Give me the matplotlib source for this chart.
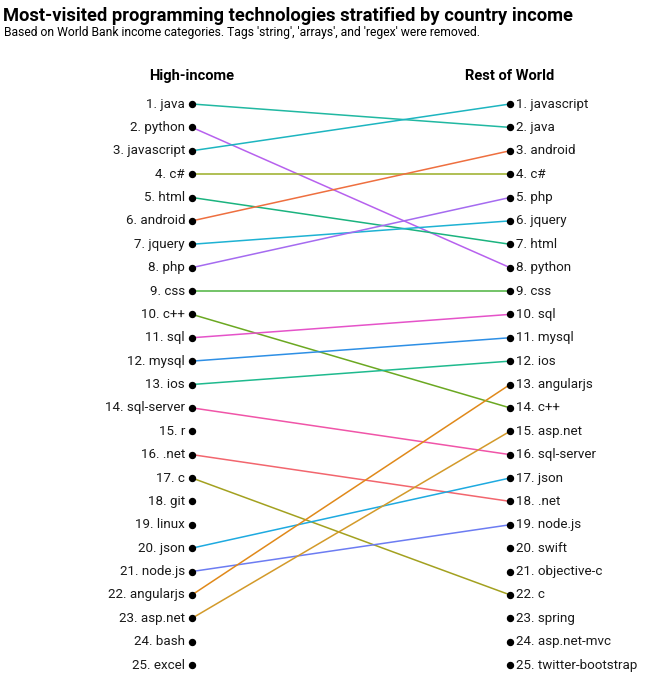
import matplotlib
matplotlib.use("Agg")
import matplotlib.pyplot as plt

plt.rcParams['font.family'] = ['Roboto', 'DejaVu Sans']

# Rankings (1 = most visited)
high_income = ['java', 'python', 'javascript', 'c#', 'html', 'android', 'jquery', 'php',
               'css', 'c++', 'sql', 'mysql', 'ios', 'sql-server', 'r', '.net', 'c', 'git',
               'linux', 'json', 'node.js', 'angularjs', 'asp.net', 'bash', 'excel']
rest_world = ['javascript', 'java', 'android', 'c#', 'php', 'jquery', 'html', 'python',
              'css', 'sql', 'mysql', 'ios', 'angularjs', 'c++', 'asp.net', 'sql-server',
              'json', '.net', 'node.js', 'swift', 'objective-c', 'c', 'spring',
              'asp.net-mvc', 'twitter-bootstrap']

# colores por tag (solo los que aparecen en ambas listas)
tag_colors = {
    '.net': '#F2666E', 'android': '#EE6F3F', 'angularjs': '#E0891A', 'asp.net': '#D39A2A',
    'c': '#A3A120', 'c#': '#9AAE26', 'c++': '#6BA822', 'css': '#4DB33E',
    'html': '#1BB37F', 'ios': '#1FBA8E', 'java': '#21B8A2', 'javascript': '#1DB5C0',
    'jquery': '#1EB2D3', 'json': '#1EAAE0', 'mysql': '#2E8FE5', 'node.js': '#6C7CF2',
    'php': '#A56BF0', 'python': '#B761EE', 'sql': '#E553C9', 'sql-server': '#F055A8',
}

fig = plt.figure(figsize=(6.46, 7.0), dpi=100)
ax = fig.add_axes([192 / 646, 1 - 665 / 700, 318 / 646, (665 - 104) / 700])
ax.set_xlim(0, 1)
ax.set_ylim(25, 1)
ax.axis('off')

# lineas entre rankings
for i, tag in enumerate(high_income):
    if tag in rest_world:
        j = rest_world.index(tag)
        ax.plot([0, 1], [i + 1, j + 1], color=tag_colors[tag], lw=1.1,
                solid_capstyle='round', clip_on=False, zorder=2)

# puntos y etiquetas
for i, tag in enumerate(high_income):
    ax.plot(0, i + 1, 'o', color='black', ms=4.3, clip_on=False, zorder=3)
    ax.annotate(f"{i + 1}. {tag}", (0, i + 1), xytext=(-5, 0), textcoords='offset points',
                ha='right', va='center', fontsize=9.6, color='#1a1a1a')
for j, tag in enumerate(rest_world):
    ax.plot(1, j + 1, 'o', color='black', ms=4.3, clip_on=False, zorder=3)
    ax.annotate(f"{j + 1}. {tag}", (1, j + 1), xytext=(4.5, 0), textcoords='offset points',
                ha='left', va='center', fontsize=9.6, color='#1a1a1a')

ax.annotate("High-income", (0, 1), xytext=(0, 20), textcoords='offset points',
            ha='center', va='center', fontsize=10.5, fontweight='bold')
ax.annotate("Rest of World", (1, 1), xytext=(0, 20), textcoords='offset points',
            ha='center', va='center', fontsize=10.5, fontweight='bold')

fig.text(0.005, 0.99, "Most-visited programming technologies stratified by country income",
         ha='left', va='top', fontsize=13.2, fontweight='bold')
fig.text(0.006, 0.963, "Based on World Bank income categories. Tags 'string', 'arrays', and 'regex' were removed.",
         ha='left', va='top', fontsize=8.7)

fig.savefig("out.png", dpi=100, facecolor='white')
